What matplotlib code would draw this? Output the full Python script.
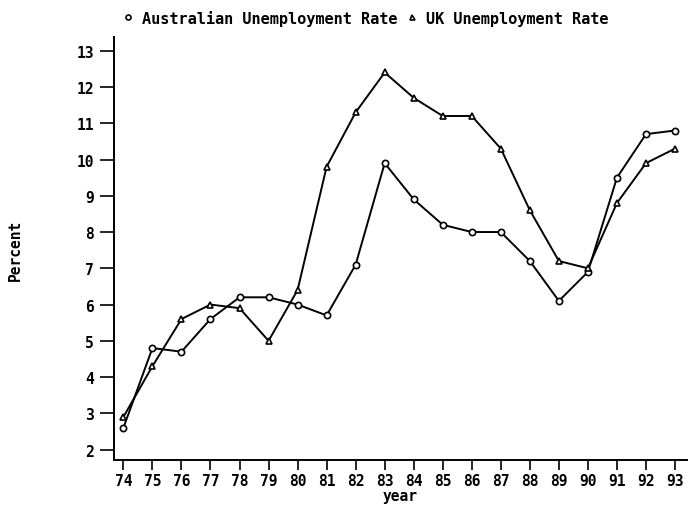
import matplotlib
matplotlib.use("Agg")
import matplotlib.pyplot as plt

years = list(range(74, 94))
aus_rate = [2.6, 4.8, 4.7, 5.6, 6.2, 6.2, 6.0, 5.7, 7.1, 9.9,
            8.9, 8.2, 8.0, 8.0, 7.2, 6.1, 6.9, 9.5, 10.7, 10.8]
uk_rate = [2.9, 4.3, 5.6, 6.0, 5.9, 5.0, 6.4, 9.8, 11.3, 12.4,
           11.7, 11.2, 11.2, 10.3, 8.6, 7.2, 7.0, 8.8, 9.9, 10.3]
y_ticks = list(range(2, 14))

plt.rcParams['font.family'] = ['DejaVu Sans Mono']
plt.rcParams['font.weight'] = 'bold'
plt.rcParams['axes.labelweight'] = 'bold'

fig = plt.figure(figsize=(6.88, 5.06), dpi=100)
ax = fig.add_axes([0.165, 0.088, 0.833, 0.837])

ax.plot(years, aus_rate, color='black', lw=1.4, marker='o', ms=4.5,
        mfc='white', mec='black', mew=1.2, label='Australian Unemployment Rate')
ax.plot(years, uk_rate, color='black', lw=1.4, marker='^', ms=4.5,
        mfc='white', mec='black', mew=1.2, label='UK Unemployment Rate')

ax.set_xlim(73.66, 93.4)
ax.set_ylim(1.7, 13.38)
ax.set_xticks(years)
ax.set_xticklabels([str(y) for y in years])
ax.set_yticks(y_ticks)

for side in ('top', 'right'):
    ax.spines[side].set_visible(False)
for side in ('left', 'bottom'):
    ax.spines[side].set_linewidth(1.4)
ax.tick_params(axis='x', direction='out', length=7, width=1.2, labelsize=10.5, pad=2)
ax.tick_params(axis='y', direction='out', length=10, width=1.2, labelsize=10.5, pad=4)

ax.set_xlabel('year', fontsize=10.5, labelpad=0)
fig.text(0.023, 0.505, 'Percent', rotation=90, ha='center', va='center', fontsize=10.5)

leg = fig.legend(loc='center', bbox_to_anchor=(0.532, 0.963), ncol=2, frameon=False,
                 fontsize=11, handlelength=0.6, handletextpad=0.6, columnspacing=0.7,
                 markerscale=0.8)
for h in leg.legend_handles:
    h.set_linestyle('none')

fig.savefig('out.png', dpi=100)
